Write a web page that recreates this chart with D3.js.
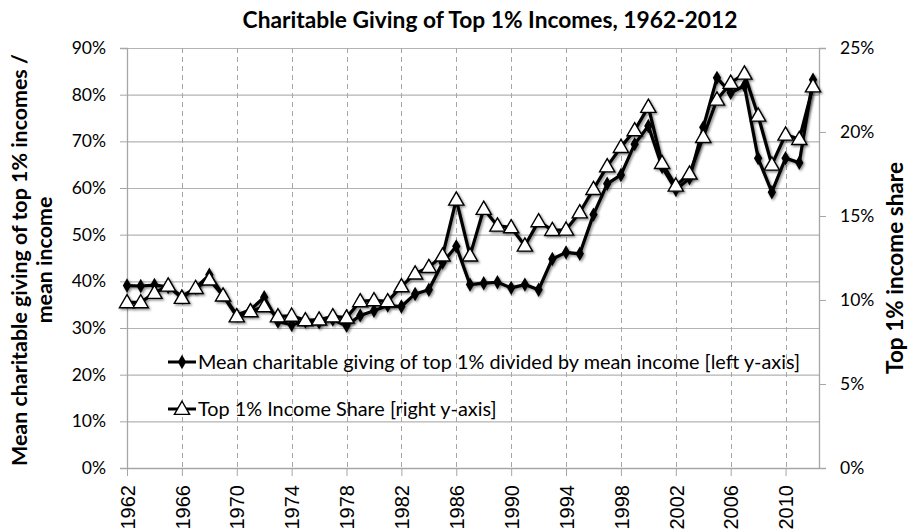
<!DOCTYPE html>
<html>
<head>
<meta charset="utf-8">
<script src="https://cdn.jsdelivr.net/npm/d3@7"></script>
<style>
  body { margin: 0; background: #fff; }
  svg { display: block; }
</style>
</head>
<body>
<div id="chart"></div>
<script>
// chart values
var years = [1962,1963,1964,1965,1966,1967,1968,1969,1970,1971,1972,1973,1974,1975,1976,1977,1978,1979,1980,1981,
             1982,1983,1984,1985,1986,1987,1988,1989,1990,1991,1992,1993,1994,1995,1996,1997,1998,1999,2000,2001,
             2002,2003,2004,2005,2006,2007,2008,2009,2010,2011,2012];

// mean charitable giving of top 1% / mean income, in % (left axis)
var givingRatio = [39.1,39.0,39.2,38.8,36.8,38.6,41.4,37.1,32.8,33.9,36.6,31.4,30.7,31.4,31.2,31.8,30.5,32.7,33.7,34.8,
                   34.6,37.3,38.2,44.0,47.5,39.3,39.6,39.8,38.6,39.3,38.2,44.8,46.2,45.9,54.3,60.9,62.8,69.4,73.3,64.5,
                   59.6,62.1,73.0,83.6,80.4,81.9,66.4,59.1,66.4,65.4,83.2];

// top 1% income share, in % (right axis)
var topShare = [9.86,9.86,10.42,10.85,10.12,10.71,11.21,10.26,9.02,9.32,9.62,9.02,9.06,8.79,8.83,9.02,8.95,9.92,9.98,9.92,
                10.81,11.57,11.96,12.64,15.97,12.64,15.42,14.42,14.32,13.23,14.68,14.16,14.18,15.21,16.6,17.95,19.1,20.1,21.49,18.15,
                16.8,17.52,19.7,21.92,22.92,23.47,20.97,18.05,19.84,19.58,22.71];

var xTickYears = [1962,1966,1970,1974,1978,1982,1986,1990,1994,1998,2002,2006,2010];
var leftTicks = [0,10,20,30,40,50,60,70,80,90];
var rightTicks = [0,5,10,15,20,25];

var seriesNames = ["Mean charitable giving of top 1% divided by mean income [left y-axis]",
                   "Top 1% Income Share [right y-axis]"];

var W = 909, H = 532;
var plotL = 127, plotR = 819, plotT = 48, plotB = 468;

var svg = d3.select("#chart").append("svg")
    .attr("width", W)
    .attr("height", H);

var defs = svg.append("defs");
var f = defs.append("filter").attr("id", "shadow")
    .attr("x", "-20%").attr("y", "-20%").attr("width", "140%").attr("height", "140%");
f.append("feDropShadow")
    .attr("dx", 1.5).attr("dy", 1.5).attr("stdDeviation", 1.2)
    .attr("flood-color", "#000").attr("flood-opacity", 0.45);

var x = d3.scaleLinear().domain([1962, 2012]).range([plotL, 813]);
var yL = d3.scaleLinear().domain([0, 90]).range([plotB, plotT]);
var yR = d3.scaleLinear().domain([0, 25]).range([plotB, plotT]);

var labelFont = "Lato, 'Open Sans', sans-serif";

// fit a text element to a target width by adjusting its font size
function fitWidth(sel, target) {
  var fs = parseFloat(sel.style("font-size"));
  var w = sel.node().getComputedTextLength();
  sel.style("font-size", (fs * target / w).toFixed(2) + "px");
}

// horizontal gridlines (left axis)
svg.append("g")
  .selectAll("line")
  .data(leftTicks.slice(1))
  .enter().append("line")
    .attr("x1", plotL).attr("x2", plotR)
    .attr("y1", function(d) { return yL(d) + 0.5; })
    .attr("y2", function(d) { return yL(d) + 0.5; })
    .style("stroke", "#b3b3b3")
    .style("stroke-width", 1.2);

// vertical dashed gridlines
svg.append("g")
  .selectAll("line")
  .data(xTickYears.slice(1))
  .enter().append("line")
    .attr("x1", function(d) { return Math.round(x(d)) + 0.5; })
    .attr("x2", function(d) { return Math.round(x(d)) + 0.5; })
    .attr("y1", plotT).attr("y2", plotB)
    .style("stroke", "#a6a6a6")
    .style("stroke-width", 1)
    .style("stroke-dasharray", "5,4");

// axes
var xAxis = d3.axisBottom(x).tickValues(xTickYears).tickSize(8).tickFormat(d3.format("d"));
var gx = svg.append("g")
    .attr("transform", "translate(0," + plotB + ")")
    .call(xAxis);
gx.select(".domain").attr("d", "M" + plotL + ",0.5H" + plotR);
gx.selectAll(".tick line").style("stroke", "#a6a6a6");
gx.selectAll(".tick text")
    .attr("transform", "rotate(-90)")
    .attr("x", -17)
    .attr("y", 0)
    .attr("dy", "0.36em")
    .style("text-anchor", "end")
    .style("font-family", "'Liberation Sans', Arial, sans-serif")
    .style("font-size", "20px")
    .style("fill", "#000");

var gl = svg.append("g")
    .attr("transform", "translate(" + plotL + ",0)")
    .call(d3.axisLeft(yL).tickValues(leftTicks).tickSize(7).tickFormat(function(d) { return d + "%"; }));
gl.selectAll(".tick text")
    .attr("x", -21)
    .style("font-family", labelFont)
    .style("font-size", "17.5px")
    .style("fill", "#000");
gl.selectAll(".tick line").style("stroke", "#a6a6a6");

var gr = svg.append("g")
    .attr("transform", "translate(" + plotR + ",0)")
    .call(d3.axisRight(yR).tickValues(rightTicks).tickSize(7).tickFormat(function(d) { return d + "%"; }));
gr.selectAll(".tick text")
    .attr("x", 21)
    .style("font-family", labelFont)
    .style("font-size", "17.5px")
    .style("fill", "#000");
gr.selectAll(".tick line").style("stroke", "#a6a6a6");

svg.selectAll(".domain").style("stroke", "#a6a6a6").style("stroke-width", 1.3);

// series
var giving = years.map(function(yr, i) { return {year: yr, v: givingRatio[i]}; });
var share = years.map(function(yr, i) { return {year: yr, v: topShare[i]}; });

var lineL = d3.line().x(function(d) { return x(d.year); }).y(function(d) { return yL(d.v); });
var lineR = d3.line().x(function(d) { return x(d.year); }).y(function(d) { return yR(d.v); });

var diamond = d3.symbol().type(d3.symbolDiamond).size(60);
var triangle = d3.symbol().type(d3.symbolTriangle).size(100);

var s1 = svg.append("g").attr("filter", "url(#shadow)");
s1.append("path")
    .datum(giving)
    .attr("d", lineL)
    .style("fill", "none")
    .style("stroke", "#000")
    .style("stroke-width", 3.2)
    .style("stroke-linejoin", "round");
s1.selectAll(".dm")
    .data(giving)
    .enter().append("path")
    .attr("class", "dm")
    .attr("d", diamond)
    .attr("transform", function(d) { return "translate(" + x(d.year) + "," + yL(d.v) + ")"; })
    .style("fill", "#000");

var s2 = svg.append("g").attr("filter", "url(#shadow)");
s2.append("path")
    .datum(share)
    .attr("d", lineR)
    .style("fill", "none")
    .style("stroke", "#000")
    .style("stroke-width", 3.2)
    .style("stroke-linejoin", "round");
s2.selectAll(".tr")
    .data(share)
    .enter().append("path")
    .attr("class", "tr")
    .attr("d", triangle)
    .attr("transform", function(d) { return "translate(" + x(d.year) + "," + (yR(d.v) + 1) + ")"; })
    .style("fill", "#fff")
    .style("stroke", "#000")
    .style("stroke-width", 1.4);

// legend
var legend = svg.append("g");
var legY = [362, 409];
legend.selectAll("line")
  .data(legY)
  .enter().append("line")
    .attr("x1", 168).attr("x2", 196)
    .attr("y1", function(d) { return d; })
    .attr("y2", function(d) { return d; })
    .style("stroke", "#000")
    .style("stroke-width", 3);
legend.append("path")
    .attr("d", diamond)
    .attr("transform", "translate(182," + legY[0] + ")")
    .style("fill", "#000");
legend.append("path")
    .attr("d", triangle)
    .attr("transform", "translate(182," + (legY[1] + 1) + ")")
    .style("fill", "#fff")
    .style("stroke", "#000")
    .style("stroke-width", 1.4);
var legTexts = legend.selectAll("text")
  .data(seriesNames)
  .enter().append("text")
    .attr("x", 198)
    .attr("y", function(d, i) { return legY[i]; })
    .attr("dy", "0.35em")
    .style("font-family", labelFont)
    .style("font-size", "18px")
    .text(function(d) { return d; });
fitWidth(d3.select(legTexts.nodes()[0]), 602);
d3.select(legTexts.nodes()[1]).style("font-size", d3.select(legTexts.nodes()[0]).style("font-size"));

// title
var title = svg.append("text")
    .attr("x", 490)
    .attr("y", 20)
    .attr("dy", "0.35em")
    .attr("text-anchor", "middle")
    .style("font-family", labelFont)
    .style("font-weight", "bold")
    .style("font-size", "20px")
    .text("Charitable Giving of Top 1% Incomes, 1962-2012");
fitWidth(title, 495);

// left axis title (two lines)
var lt1 = svg.append("text")
    .attr("transform", "translate(19,260) rotate(-90)")
    .attr("dy", "0.35em")
    .attr("text-anchor", "middle")
    .style("font-family", labelFont)
    .style("font-weight", "bold")
    .style("font-size", "19px")
    .text("Mean charitable giving of top 1% incomes /");
fitWidth(lt1, 412);
svg.append("text")
    .attr("transform", "translate(44,260) rotate(-90)")
    .attr("dy", "0.35em")
    .attr("text-anchor", "middle")
    .style("font-family", labelFont)
    .style("font-weight", "bold")
    .style("font-size", lt1.style("font-size"))
    .text("mean income");

// right axis title
var rt = svg.append("text")
    .attr("transform", "translate(895,268) rotate(-90)")
    .attr("dy", "0.35em")
    .attr("text-anchor", "middle")
    .style("font-family", labelFont)
    .style("font-weight", "bold")
    .style("font-size", "19px")
    .text("Top 1% income share");
fitWidth(rt, 212);
</script>
</body>
</html>
